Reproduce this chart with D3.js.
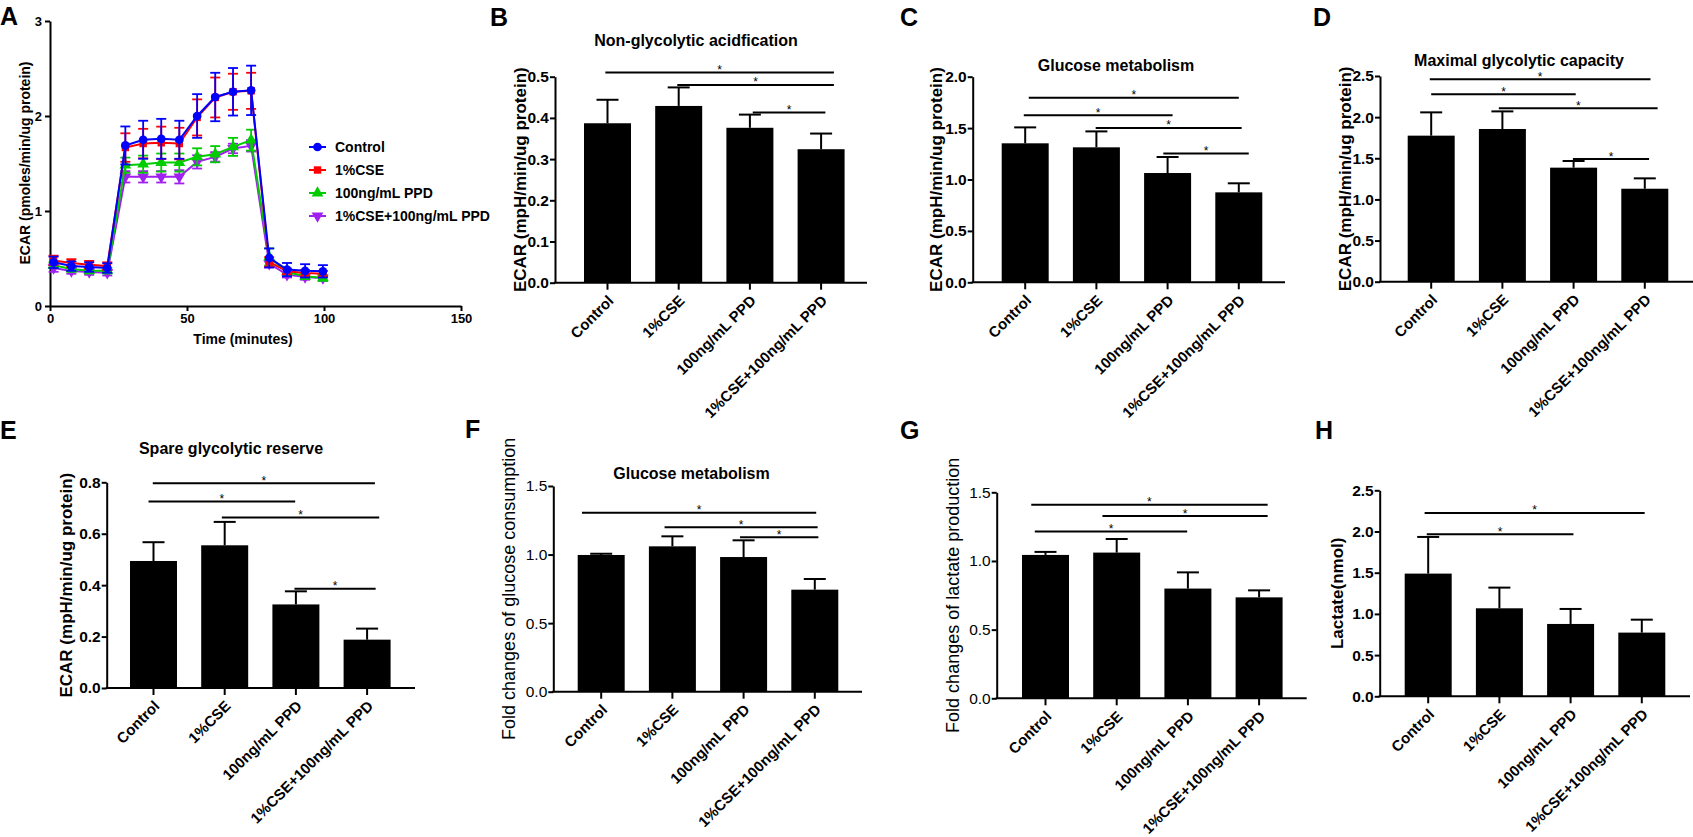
<!DOCTYPE html>
<html>
<head>
<meta charset="utf-8">
<script src="https://cdn.jsdelivr.net/npm/d3@7.9.0/dist/d3.min.js"></script>
<style>
  body { margin: 0; background: #fff; }
  svg { font-family: "Liberation Sans", Arial, sans-serif; }
</style>
</head>
<body>
<svg id="fig" width="1693" height="837"></svg>
<script>
// ---- data ----
const categories = ["Control", "1%CSE", "100ng/mL PPD", "1%CSE+100ng/mL PPD"];

// panel A: ECAR time course
const timeMinutes = [1.3, 7.8, 14.3, 20.9, 27.5, 34.0, 40.6, 47.2, 53.7, 60.3, 66.8, 73.4, 80.0, 86.5, 93.1, 99.6];
const seriesNames = ["Control", "1%CSE", "100ng/mL PPD", "1%CSE+100ng/mL PPD"];
const ecarControl = [0.46, 0.42, 0.41, 0.40, 1.69, 1.75, 1.76, 1.75, 2.00, 2.20, 2.255, 2.27, 0.506, 0.383, 0.37, 0.365];
const ecarControlErr = [0.06, 0.05, 0.05, 0.05, 0.20, 0.20, 0.21, 0.20, 0.23, 0.255, 0.25, 0.26, 0.10, 0.07, 0.07, 0.065];
const ecarCSE = [0.48, 0.453, 0.435, 0.42, 1.668, 1.71, 1.718, 1.71, 1.985, 2.195, 2.255, 2.265, 0.464, 0.365, 0.348, 0.34];
const ecarCSEErr = [0.05, 0.04, 0.04, 0.04, 0.15, 0.155, 0.17, 0.166, 0.19, 0.21, 0.19, 0.19, 0.05, 0.03, 0.03, 0.03];
const ecarPPD = [0.43, 0.39, 0.372, 0.372, 1.482, 1.493, 1.51, 1.51, 1.57, 1.598, 1.675, 1.746, 0.516, 0.358, 0.313, 0.295];
const ecarPPDErr = [0.03, 0.03, 0.03, 0.03, 0.08, 0.09, 0.095, 0.095, 0.09, 0.085, 0.095, 0.11, 0.09, 0.03, 0.03, 0.03];
const ecarCombo = [0.40, 0.369, 0.358, 0.351, 1.36, 1.36, 1.36, 1.36, 1.517, 1.57, 1.658, 1.686, 0.446, 0.33, 0.306, 0.295];
const ecarComboErr = [0.04, 0.03, 0.03, 0.03, 0.06, 0.06, 0.06, 0.07, 0.07, 0.05, 0.05, 0.06, 0.04, 0.03, 0.03, 0.03];
const timeTicks = [0, 50, 100, 150];
const ecarTicks = [0, 1, 2, 3];

// bar panels: means, upper error, significance bars [from, to, y] (from/to in category steps)
const nonGlycolyticMean = [0.387, 0.429, 0.376, 0.324];
const nonGlycolyticErr = [0.057, 0.045, 0.032, 0.038];
const nonGlycolyticSig = [[-0.03, 3.18, 0.51], [0.98, 3.18, 0.48], [2.04, 3.06, 0.413]];

const glucoseEcarMean = [1.352, 1.313, 1.063, 0.875];
const glucoseEcarErr = [0.155, 0.155, 0.156, 0.088];
const glucoseEcarSig = [[0.05, 3.0, 1.796], [-0.02, 2.07, 1.624], [0.99, 3.04, 1.501], [1.94, 3.14, 1.254]];

const maxCapacityMean = [1.775, 1.856, 1.386, 1.130];
const maxCapacityErr = [0.283, 0.214, 0.081, 0.126];
const maxCapacitySig = [[-0.02, 3.08, 2.459], [0.0, 2.03, 2.277], [0.95, 3.18, 2.107], [1.99, 3.06, 1.491]];

const spareReserveMean = [0.494, 0.555, 0.325, 0.188];
const spareReserveErr = [0.073, 0.091, 0.051, 0.043];
const spareReserveSig = [[-0.01, 3.11, 0.796], [-0.07, 1.99, 0.725], [0.96, 3.17, 0.663], [1.98, 3.12, 0.386]];

const glucoseUseMean = [0.997, 1.06, 0.982, 0.744];
const glucoseUseErr = [0.009, 0.073, 0.122, 0.078];
const glucoseUseSig = [[-0.27, 3.02, 1.305], [0.89, 3.04, 1.199], [1.95, 3.05, 1.126]];

const lactateFoldMean = [1.044, 1.061, 0.799, 0.735];
const lactateFoldErr = [0.022, 0.099, 0.118, 0.051];
const lactateFoldSig = [[-0.2, 3.12, 1.41], [0.8, 3.12, 1.327], [-0.15, 1.99, 1.214]];

const lactateMean = [1.489, 1.068, 0.878, 0.773];
const lactateErr = [0.445, 0.251, 0.182, 0.157];
const lactateSig = [[-0.05, 3.04, 2.225], [-0.02, 2.04, 1.966]];

// ---- drawing ----
const svg = d3.select("#fig");

function letter(t, x, y) {
  svg.append("text").attr("x", x).attr("y", y).attr("font-size", 25)
    .attr("font-weight", "bold").text(t);
}

function styleAxis(g) {
  g.select(".domain").attr("stroke-width", 2);
  g.selectAll(".tick line").attr("stroke-width", 2);
}

// panel A
(function () {
  const x = d3.scaleLinear().domain([0, 150]).range([50, 461]);
  const y = d3.scaleLinear().domain([0, 3]).range([306, 21]);
  const g = svg.append("g");
  const colors = ["#0000ff", "#ff0000", "#00cc00", "#a020f0"];
  const symbols = [d3.symbolCircle, d3.symbolSquare, d3.symbolTriangle, d3.symbolTriangle];
  const means = [ecarControl, ecarCSE, ecarPPD, ecarCombo];
  const errs = [ecarControlErr, ecarCSEErr, ecarPPDErr, ecarComboErr];

  const ya = g.append("g").attr("transform", "translate(50,0)")
    .call(d3.axisLeft(y).tickValues(ecarTicks).tickSize(5).tickSizeOuter(0).tickFormat(d3.format("d")));
  styleAxis(ya);
  ya.selectAll("text").attr("font-size", 13).attr("font-weight", "bold").attr("font-family", null);
  const xa = g.append("g").attr("transform", "translate(0,306)")
    .call(d3.axisBottom(x).tickValues(timeTicks).tickSize(5).tickSizeOuter(0));
  styleAxis(xa);
  xa.selectAll("text").attr("font-size", 13).attr("font-weight", "bold").attr("font-family", null);

  g.append("text").attr("transform", "translate(25,163) rotate(-90)")
    .attr("text-anchor", "middle").attr("dominant-baseline", "central")
    .attr("font-size", 14).attr("font-weight", "bold").text("ECAR (pmoles/min/ug protein)");
  g.append("text").attr("x", 243).attr("y", 344).attr("text-anchor", "middle")
    .attr("font-size", 14).attr("font-weight", "bold").text("Time (minutes)");

  const line = d3.line().x((d, i) => x(timeMinutes[i])).y(d => y(d));
  for (let s = 3; s >= 0; s--) {
    const c = colors[s];
    const sg = g.append("g");
    sg.append("path").datum(means[s]).attr("d", line).attr("fill", "none")
      .attr("stroke", c).attr("stroke-width", 2);
    means[s].forEach((m, i) => {
      const cx = x(timeMinutes[i]);
      const top = y(m + errs[s][i]), bot = y(m - errs[s][i]);
      sg.append("line").attr("x1", cx).attr("x2", cx).attr("y1", top).attr("y2", bot)
        .attr("stroke", c).attr("stroke-width", 1.8);
      [top, bot].forEach(yy => sg.append("line").attr("x1", cx - 5).attr("x2", cx + 5)
        .attr("y1", yy).attr("y2", yy).attr("stroke", c).attr("stroke-width", 1.8));
      sg.append("path").attr("d", d3.symbol(symbols[s], s === 1 ? 55 : 60)())
        .attr("transform", `translate(${cx},${y(m)})` + (s === 3 ? " rotate(180)" : ""))
        .attr("fill", c);
    });
  }

  seriesNames.forEach((name, i) => {
    const ly = 147 + i * 23;
    g.append("line").attr("x1", 309).attr("x2", 326).attr("y1", ly).attr("y2", ly)
      .attr("stroke", colors[i]).attr("stroke-width", 2);
    g.append("path").attr("d", d3.symbol(symbols[i], i === 1 ? 55 : 60)())
      .attr("transform", `translate(317.5,${ly})` + (i === 3 ? " rotate(180)" : ""))
      .attr("fill", colors[i]);
    g.append("text").attr("x", 335).attr("y", ly).attr("dominant-baseline", "central")
      .attr("font-size", 14).attr("font-weight", "bold").text(name);
  });
  letter("A", 0, 25);
})();

function barPanel(p) {
  const g = svg.append("g");
  const step = 71.2, pi = 0.34, po = 0.33;
  const r0 = p.barStart - po * step;
  const x = d3.scaleBand().domain(categories)
    .range([r0, r0 + (categories.length - pi + 2 * po) * step])
    .paddingInner(pi).paddingOuter(po);
  const y = d3.scaleLinear().domain([0, p.yMax]).range([p.yBottom, p.yTop]);
  const bw = x.bandwidth();
  const c0 = x(categories[0]) + bw / 2;

  const ya = g.append("g").attr("transform", `translate(${p.x0},0)`)
    .call(d3.axisLeft(y).tickValues(d3.range(0, p.yMax + 1e-9, p.tickStep))
      .tickFormat(d3.format(".1f")).tickSize(5).tickSizeOuter(0).tickPadding(1));
  styleAxis(ya);
  ya.selectAll("text").attr("font-size", 15.5).attr("font-family", null)
    .attr("font-weight", p.boldTicks ? "bold" : "normal");

  const xa = g.append("g").attr("transform", `translate(0,${p.yBottom})`)
    .call(d3.axisBottom(x).tickSize(7).tickSizeOuter(0));
  xa.select(".domain").remove();
  xa.selectAll(".tick line").attr("stroke-width", 2);
  xa.selectAll("text").attr("font-size", 15).attr("font-weight", "bold").attr("font-family", null)
    .attr("text-anchor", "end").attr("x", null).attr("y", null).attr("dy", null)
    .attr("transform", "translate(7,19) rotate(-45)");
  g.append("line").attr("x1", p.x0 - 1).attr("x2", p.xEnd).attr("y1", p.yBottom).attr("y2", p.yBottom)
    .attr("stroke", "#000").attr("stroke-width", 2);

  categories.forEach((c, i) => {
    const cx = x(c) + bw / 2;
    const top = y(p.mean[i] + p.err[i]);
    g.append("line").attr("x1", cx).attr("x2", cx).attr("y1", y(p.mean[i])).attr("y2", top)
      .attr("stroke", "#000").attr("stroke-width", 2);
    g.append("line").attr("x1", cx - 11).attr("x2", cx + 11).attr("y1", top).attr("y2", top)
      .attr("stroke", "#000").attr("stroke-width", 2);
  });
  g.selectAll(".bar").data(p.mean).join("rect")
    .attr("x", (d, i) => x(categories[i])).attr("width", bw)
    .attr("y", d => y(d)).attr("height", d => p.yBottom - y(d)).attr("fill", "#000");

  p.sig.forEach(([a, b, v]) => {
    const xa1 = c0 + a * x.step(), xb1 = c0 + b * x.step();
    g.append("line").attr("x1", xa1).attr("x2", xb1).attr("y1", y(v)).attr("y2", y(v))
      .attr("stroke", "#000").attr("stroke-width", 2);
    g.append("text").attr("x", (xa1 + xb1) / 2).attr("y", y(v) + 1.5).attr("text-anchor", "middle")
      .attr("font-size", 12).text("*");
  });

  if (p.title) {
    g.append("text").attr("x", p.titleX).attr("y", p.titleY).attr("text-anchor", "middle")
      .attr("font-size", 16).attr("font-weight", "bold").text(p.title);
  }
  // rotated y label: baseline sits on the right side of the glyphs
  g.append("text").attr("transform", `translate(${p.x0 - p.yLabelGap},${(p.yTop + p.yBottom) / 2}) rotate(-90)`)
    .attr("text-anchor", "middle")
    .attr("font-size", p.yLabelSize).attr("font-weight", p.yLabelBold ? "bold" : "normal")
    .text(p.yLabel);
  letter(p.letter, p.letterX, p.letterY);
}

const ecarLabel = "ECAR (mpH/min/ug protein)";
barPanel({ letter: "B", letterX: 490, letterY: 26, x0: 555, barStart: 584, xEnd: 867, yTop: 76.7, yBottom: 282.7,
  yMax: 0.5, tickStep: 0.1, mean: nonGlycolyticMean, err: nonGlycolyticErr, sig: nonGlycolyticSig,
  title: "Non-glycolytic acidfication", titleX: 696, titleY: 46, yLabel: ecarLabel, yLabelGap: 29,
  yLabelSize: 17, yLabelBold: true, boldTicks: true });
barPanel({ letter: "C", letterX: 900, letterY: 26, x0: 972.7, barStart: 1001.7, xEnd: 1285, yTop: 76.7, yBottom: 282.3,
  yMax: 2.0, tickStep: 0.5, mean: glucoseEcarMean, err: glucoseEcarErr, sig: glucoseEcarSig,
  title: "Glucose metabolism", titleX: 1116, titleY: 71, yLabel: ecarLabel, yLabelGap: 31,
  yLabelSize: 17, yLabelBold: true, boldTicks: true });
barPanel({ letter: "D", letterX: 1313, letterY: 26, x0: 1380, barStart: 1407.7, xEnd: 1693, yTop: 76, yBottom: 281.7,
  yMax: 2.5, tickStep: 0.5, mean: maxCapacityMean, err: maxCapacityErr, sig: maxCapacitySig,
  title: "Maximal glycolytic capacity", titleX: 1519, titleY: 66, yLabel: ecarLabel, yLabelGap: 29,
  yLabelSize: 17, yLabelBold: true, boldTicks: true });
barPanel({ letter: "E", letterX: 0, letterY: 439, x0: 106.7, barStart: 130, xEnd: 415, yTop: 482.3, yBottom: 688,
  yMax: 0.8, tickStep: 0.2, mean: spareReserveMean, err: spareReserveErr, sig: spareReserveSig,
  title: "Spare glycolytic reserve", titleX: 231, titleY: 454, yLabel: ecarLabel, yLabelGap: 35,
  yLabelSize: 17, yLabelBold: true, boldTicks: true });
barPanel({ letter: "F", letterX: 465, letterY: 438, x0: 553.3, barStart: 577.7, xEnd: 862, yTop: 486, yBottom: 691.7,
  yMax: 1.5, tickStep: 0.5, mean: glucoseUseMean, err: glucoseUseErr, sig: glucoseUseSig,
  title: "Glucose metabolism", titleX: 691.5, titleY: 479, yLabel: "Fold changes of glucose consumption", yLabelGap: 38,
  yLabelSize: 18, yLabelBold: false, boldTicks: false });
barPanel({ letter: "G", letterX: 900, letterY: 439, x0: 996.7, barStart: 1022, xEnd: 1306.7, yTop: 492.3, yBottom: 698.3,
  yMax: 1.5, tickStep: 0.5, mean: lactateFoldMean, err: lactateFoldErr, sig: lactateFoldSig,
  yLabel: "Fold changes of lactate production", yLabelGap: 38,
  yLabelSize: 18, yLabelBold: false, boldTicks: false });
barPanel({ letter: "H", letterX: 1315, letterY: 439, x0: 1379.7, barStart: 1404.7, xEnd: 1690, yTop: 490.3, yBottom: 696.3,
  yMax: 2.5, tickStep: 0.5, mean: lactateMean, err: lactateErr, sig: lactateSig,
  yLabel: "Lactate(nmol)", yLabelGap: 37,
  yLabelSize: 17, yLabelBold: true, boldTicks: true });
</script>
</body>
</html>
